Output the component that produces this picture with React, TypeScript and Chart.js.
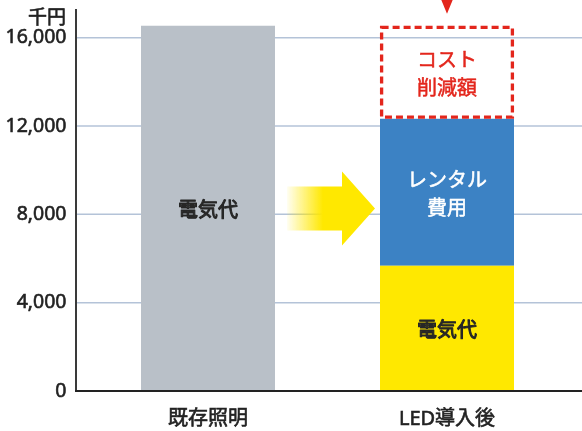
import React, { useEffect, useRef } from 'react';
import { Chart, registerables } from 'chart.js';

Chart.register(...registerables);

const categories = ['既存照明', 'LED導入後'];
const electricityCost = [16540, 5670];
const rentalCost = [0, 6660];
const costReduction = [0, 4210];
const electricityLabels = ['電気代', '電気代'];
const rentalLabels = ['', 'レンタル\n費用'];
const reductionLabels = ['', 'コスト\n削減額'];
const yTickValues = [0, 4000, 8000, 12000, 16000];
const yAxisMax = 17300;
const unitLabel = '千円';

const FONT = '"Noto Sans", "Noto Sans CJK JP", sans-serif';
const JP_FONT = '"Noto Sans CJK JP", "Noto Sans", sans-serif';

const W = 582;
const H = 431;

function props(el: any) {
  return el.getProps(['x', 'y', 'base', 'width'], true);
}

function boldText(ctx: any, txt: string, x: number, y: number, color: string, stroke: number) {
  ctx.fillStyle = color;
  if (stroke > 0) {
    ctx.strokeStyle = color;
    ctx.lineWidth = stroke;
    ctx.lineJoin = 'round';
    ctx.strokeText(txt, x, y);
  }
  ctx.fillText(txt, x, y);
}

const overlay = {
  id: 'overlay',
  beforeDatasetsDraw(chart: any) {
    const { ctx, chartArea, scales } = chart;
    const ys = scales.y;
    const axisX = chartArea.left - 12.5;
    ctx.save();
    ctx.strokeStyle = '#b4c3d8';
    ctx.lineWidth = 1.5;
    yTickValues.forEach((v) => {
      if (v === 0) return;
      const py = ys.getPixelForValue(v);
      ctx.beginPath();
      ctx.moveTo(axisX, py);
      ctx.lineTo(chart.width, py);
      ctx.stroke();
    });

    // yellow arrow between bars
    const m0 = chart.getDatasetMeta(0);
    const b1 = props(m0.data[0]);
    const b2 = props(m0.data[1]);
    const x0 = b1.x + b1.width / 2 + 12;
    const x1 = b2.x - b2.width / 2 - 5;
    const cy = (b1.y + b1.base) / 2;
    const headStart = x1 - 33;
    const grad = ctx.createLinearGradient(x0, 0, x0 + 36, 0);
    grad.addColorStop(0, 'rgba(255,232,0,0.05)');
    grad.addColorStop(1, 'rgba(255,232,0,1)');
    ctx.fillStyle = grad;
    ctx.beginPath();
    ctx.moveTo(x0, cy - 22);
    ctx.lineTo(headStart, cy - 22);
    ctx.lineTo(headStart, cy - 37);
    ctx.lineTo(x1, cy);
    ctx.lineTo(headStart, cy + 37);
    ctx.lineTo(headStart, cy + 22);
    ctx.lineTo(x0, cy + 22);
    ctx.closePath();
    ctx.fill();
    ctx.restore();
  },
  afterDatasetsDraw(chart: any) {
    const { ctx, chartArea, scales } = chart;
    const ys = scales.y;
    const axisX = chartArea.left - 12.5;
    ctx.save();

    // dashed cost-reduction box
    const m2 = chart.getDatasetMeta(2);
    m2.data.forEach((el: any, i: number) => {
      if (!costReduction[i]) return;
      const p = props(el);
      const left = p.x - p.width / 2;
      ctx.strokeStyle = '#e3261c';
      ctx.lineWidth = 3.3;
      ctx.setLineDash([7, 4]);
      ctx.strokeRect(left + 1.6, p.y + 1.6, p.width - 3.2, p.base - p.y - 3.2);
      ctx.setLineDash([]);
      // red triangle pointer
      const tipY = p.y - 12;
      ctx.fillStyle = '#e3261c';
      ctx.beginPath();
      ctx.moveTo(p.x - 7, tipY - 17);
      ctx.lineTo(p.x + 7, tipY - 17);
      ctx.lineTo(p.x, tipY);
      ctx.closePath();
      ctx.fill();
    });

    // texts inside segments
    const drawLabels = (dsIndex: number, labels: string[], color: string, stroke: number) => {
      const meta = chart.getDatasetMeta(dsIndex);
      meta.data.forEach((el: any, i: number) => {
        const txt = labels[i];
        if (!txt) return;
        const p = props(el);
        const lines = txt.split('\n');
        const lh = 27.5;
        const cy = (p.y + p.base) / 2 + 1;
        ctx.font = `normal 20px ${JP_FONT}`;
        ctx.textAlign = 'center';
        ctx.textBaseline = 'middle';
        lines.forEach((ln, k) => {
          boldText(ctx, ln, p.x, cy + (k - (lines.length - 1) / 2) * lh, color, stroke);
        });
      });
    };
    drawLabels(0, electricityLabels, '#262626', 1.0);
    drawLabels(1, rentalLabels, '#ffffff', 0.5);
    drawLabels(2, reductionLabels, '#e3261c', 0.5);

    // axes
    ctx.strokeStyle = '#3a3a3a';
    ctx.lineWidth = 2;
    ctx.beginPath();
    ctx.moveTo(axisX, chartArea.top);
    ctx.lineTo(axisX, ys.getPixelForValue(0) + 1);
    ctx.stroke();
    ctx.strokeStyle = '#222222';
    ctx.beginPath();
    const by = ys.getPixelForValue(0);
    ctx.moveTo(axisX - 1, by);
    ctx.lineTo(chart.width, by);
    ctx.stroke();

    // unit label
    ctx.font = `normal 19px ${JP_FONT}`;
    ctx.textAlign = 'right';
    ctx.textBaseline = 'middle';
    boldText(ctx, unitLabel, chartArea.left - 22.5, 17, '#222222', 0.6);
    ctx.restore();
  },
};

export default function App() {
  const ref = useRef<HTMLCanvasElement | null>(null);
  useEffect(() => {
    document.body.style.margin = '0';
    const canvas = ref.current!;
    const chart = new Chart(canvas, {
      type: 'bar',
      data: {
        labels: categories,
        datasets: [
          {
            label: '電気代',
            data: electricityCost,
            backgroundColor: ['#b9c0c8', '#ffe800'],
            barPercentage: 134 / 239,
            categoryPercentage: 1,
          },
          {
            label: 'レンタル費用',
            data: rentalCost,
            backgroundColor: '#3c82c4',
            barPercentage: 134 / 239,
            categoryPercentage: 1,
          },
          {
            label: 'コスト削減額',
            data: costReduction,
            backgroundColor: 'rgba(0,0,0,0)',
            barPercentage: 134 / 239,
            categoryPercentage: 1,
          },
        ],
      },
      options: {
        animation: false,
        responsive: false,
        devicePixelRatio: 1,
        layout: { padding: { top: 9, right: 15.5, left: 0, bottom: 0 } },
        plugins: { legend: { display: false }, tooltip: { enabled: false } },
        scales: {
          x: {
            stacked: true,
            offset: true,
            grid: { display: false, drawTicks: false },
            border: { display: false },
            ticks: {
              color: '#222222',
              font: { size: 20, family: FONT },
              padding: 16,
              textStrokeColor: '#222222',
              textStrokeWidth: 0.6,
            },
            afterFit: (s: any) => {
              s.height = 40;
              s.paddingTop = 0;
              s.paddingBottom = 0;
            },
          },
          y: {
            stacked: true,
            min: 0,
            max: yAxisMax,
            grid: { display: false, drawTicks: false },
            border: { display: false },
            ticks: {
              stepSize: 4000,
              color: '#222222',
              font: { size: 19.5, family: FONT },
              padding: 22,
              textStrokeColor: '#222222',
              textStrokeWidth: 0.6,
              callback: (v: any) => Number(v).toLocaleString('en-US'),
            },
            afterBuildTicks: (s: any) => {
              s.ticks = yTickValues.map((v) => ({ value: v }));
            },
            afterFit: (s: any) => {
              s.width = 88.5;
              s.paddingTop = 0;
              s.paddingBottom = 0;
            },
          },
        },
      },
      plugins: [overlay],
    });
    return () => chart.destroy();
  }, []);
  return (
    <div style={{ position: 'fixed', left: 0, top: 0, width: W, height: H, overflow: 'hidden', background: '#fff' }}>
      <canvas ref={ref} width={W} height={H} style={{ display: 'block', width: W, height: H }} />
    </div>
  );
}
